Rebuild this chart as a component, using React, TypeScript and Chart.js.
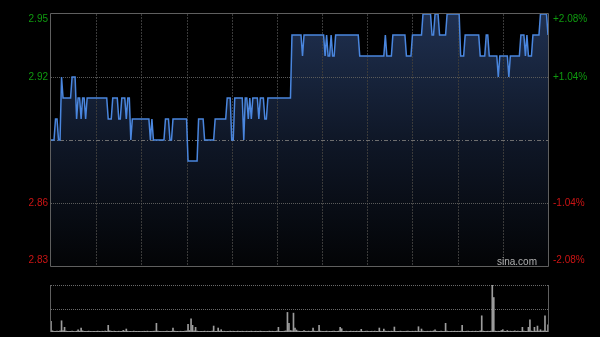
import React, { useEffect, useRef } from "react";
import { Chart, registerables } from "chart.js";

Chart.register(...registerables);

// ---- data ----
const prevClose = 2.89;
const priceMin = 2.83;
const priceMax = 2.95;
const leftTicks = [2.95, 2.92, 2.86, 2.83];
const rightTicks = ["+2.08%", "+1.04%", "-1.04%", "-2.08%"];
const timeGrid = [30, 60, 90, 120, 150, 180, 210, 240, 270, 300];
const totalMinutes = 330;

const prices = [
  2.89, 2.89, 2.89, 2.9, 2.9, 2.89, 2.89, 2.92, 2.91, 2.91,
  2.91, 2.91, 2.91, 2.91, 2.92, 2.92, 2.92, 2.9, 2.91, 2.91,
  2.9, 2.91, 2.91, 2.9, 2.91, 2.91, 2.91, 2.91, 2.91, 2.91,
  2.91, 2.91, 2.91, 2.91, 2.91, 2.91, 2.91, 2.91, 2.9, 2.9,
  2.9, 2.91, 2.91, 2.91, 2.91, 2.9, 2.9, 2.91, 2.91, 2.91,
  2.9, 2.91, 2.91, 2.89, 2.9, 2.9, 2.9, 2.9, 2.9, 2.9,
  2.9, 2.9, 2.9, 2.9, 2.9, 2.9, 2.89, 2.9, 2.89, 2.89,
  2.89, 2.89, 2.89, 2.89, 2.89, 2.89, 2.9, 2.9, 2.9, 2.89,
  2.89, 2.9, 2.9, 2.9, 2.9, 2.9, 2.9, 2.9, 2.9, 2.9,
  2.9, 2.88, 2.88, 2.88, 2.88, 2.88, 2.88, 2.88, 2.9, 2.9,
  2.9, 2.9, 2.89, 2.89, 2.89, 2.89, 2.89, 2.89, 2.89, 2.9,
  2.9, 2.9, 2.9, 2.9, 2.9, 2.9, 2.9, 2.91, 2.91, 2.91,
  2.89, 2.89, 2.91, 2.91, 2.91, 2.91, 2.91, 2.91, 2.89, 2.91,
  2.91, 2.9, 2.91, 2.9, 2.91, 2.91, 2.91, 2.91, 2.9, 2.91,
  2.91, 2.91, 2.9, 2.9, 2.91, 2.91, 2.91, 2.91, 2.91, 2.91,
  2.91, 2.91, 2.91, 2.91, 2.91, 2.91, 2.91, 2.91, 2.91, 2.91,
  2.94, 2.94, 2.94, 2.94, 2.94, 2.94, 2.94, 2.93, 2.94, 2.94,
  2.94, 2.94, 2.94, 2.94, 2.94, 2.94, 2.94, 2.94, 2.94, 2.94,
  2.94, 2.94, 2.93, 2.94, 2.93, 2.93, 2.94, 2.93, 2.93, 2.94,
  2.94, 2.94, 2.94, 2.94, 2.94, 2.94, 2.94, 2.94, 2.94, 2.94,
  2.94, 2.94, 2.94, 2.94, 2.94, 2.93, 2.93, 2.93, 2.93, 2.93,
  2.93, 2.93, 2.93, 2.93, 2.93, 2.93, 2.93, 2.93, 2.93, 2.93,
  2.93, 2.93, 2.94, 2.93, 2.93, 2.93, 2.93, 2.94, 2.94, 2.94,
  2.94, 2.94, 2.94, 2.94, 2.94, 2.94, 2.93, 2.93, 2.93, 2.93,
  2.94, 2.94, 2.94, 2.94, 2.94, 2.94, 2.94, 2.95, 2.95, 2.95,
  2.95, 2.95, 2.95, 2.94, 2.94, 2.95, 2.95, 2.95, 2.94, 2.94,
  2.94, 2.94, 2.94, 2.95, 2.95, 2.95, 2.95, 2.95, 2.95, 2.95,
  2.95, 2.95, 2.93, 2.93, 2.93, 2.94, 2.94, 2.94, 2.94, 2.94,
  2.94, 2.94, 2.94, 2.94, 2.94, 2.93, 2.93, 2.93, 2.93, 2.94,
  2.94, 2.93, 2.93, 2.93, 2.93, 2.93, 2.93, 2.92, 2.93, 2.93,
  2.93, 2.93, 2.93, 2.93, 2.92, 2.93, 2.93, 2.93, 2.93, 2.93,
  2.93, 2.93, 2.94, 2.94, 2.94, 2.93, 2.94, 2.93, 2.93, 2.93,
  2.94, 2.94, 2.94, 2.94, 2.94, 2.95, 2.95, 2.95, 2.95, 2.95,
  2.94,
];

const volumes = [
  1070, 120, 80, 60, 90, 70, 110, 1130, 150, 470,
  90, 60, 80, 70, 100, 60, 50, 80, 230, 90,
  400, 120, 80, 60, 70, 90, 60, 50, 80, 70,
  60, 90, 70, 50, 80, 60, 100, 70, 670, 120,
  80, 60, 90, 70, 50, 80, 60, 70, 170, 90,
  300, 80, 60, 70, 50, 90, 60, 80, 70, 60,
  50, 70, 80, 60, 90, 50, 70, 60, 80, 100,
  870, 90, 60, 70, 50, 80, 60, 90, 70, 60,
  80, 400, 90, 60, 70, 50, 80, 60, 70, 90,
  110, 770, 150, 1330, 670, 120, 470, 90, 60, 80,
  70, 60, 90, 50, 80, 70, 60, 90, 600, 80,
  70, 400, 90, 230, 60, 80, 50, 70, 60, 90,
  60, 80, 70, 50, 90, 60, 70, 80, 60, 50,
  80, 60, 70, 90, 50, 60, 80, 70, 60, 90,
  70, 60, 80, 50, 70, 90, 60, 80, 70, 60,
  90, 470, 80, 60, 70, 90, 120, 1970, 870, 150,
  110, 1900, 400, 200, 90, 80, 60, 70, 150, 80,
  60, 90, 70, 80, 400, 90, 60, 80, 670, 90,
  70, 60, 80, 90, 50, 70, 60, 80, 90, 60,
  80, 90, 470, 330, 70, 60, 80, 50, 70, 90,
  60, 80, 70, 90, 60, 80, 270, 70, 60, 80,
  90, 60, 70, 80, 60, 90, 70, 60, 400, 80,
  70, 300, 90, 60, 80, 70, 90, 60, 500, 80,
  60, 70, 90, 80, 60, 70, 80, 90, 60, 70,
  80, 60, 90, 70, 530, 80, 300, 90, 60, 70,
  80, 60, 90, 70, 120, 230, 80, 60, 70, 90,
  60, 80, 870, 90, 60, 70, 80, 60, 90, 70,
  80, 60, 90, 670, 70, 60, 80, 90, 60, 70,
  80, 60, 90, 70, 60, 120, 1630, 90, 70, 60,
  80, 60, 90, 4730, 3470, 90, 60, 80, 70, 150,
  230, 80, 60, 150, 70, 90, 60, 80, 120, 70,
  90, 60, 80, 470, 90, 70, 80, 470, 1230, 100,
  80, 470, 90, 600, 100, 230, 90, 110, 1630, 90,
  730,
];
const volumeMax = 4730;

// ---- styles ----
const FONT = "10px 'Liberation Sans', Arial, sans-serif";
const GREEN = "#0f9a0f";
const RED = "#cc1414";
const BORDER = "#5f5f5f";

function hline(ctx: CanvasRenderingContext2D, x1: number, x2: number, y: number) {
  ctx.beginPath();
  ctx.moveTo(x1, y);
  ctx.lineTo(x2, y);
  ctx.stroke();
}
function vline(ctx: CanvasRenderingContext2D, x: number, y1: number, y2: number) {
  ctx.beginPath();
  ctx.moveTo(x, y1);
  ctx.lineTo(x, y2);
  ctx.stroke();
}

const mainDecor = {
  id: "mainDecor",
  beforeDatasetDraw(chart: any) {
    const { ctx, chartArea: a, scales } = chart;
    const x = scales.x;
    const y = scales.y;
    ctx.save();
    ctx.lineWidth = 1;
    ctx.strokeStyle = "#3a3a3a";
    ctx.setLineDash([2, 1]);
    for (const m of timeGrid) {
      const px = Math.round(x.getPixelForValue(m)) + 0.5;
      vline(ctx, px, a.top, a.bottom);
    }
    ctx.strokeStyle = "#5a5a5a";
    ctx.setLineDash([1, 1]);
    for (const v of leftTicks) {
      if (v === priceMin || v === priceMax) continue;
      const py = Math.round(y.getPixelForValue(v)) + 0.5;
      hline(ctx, a.left, a.right, py);
    }
    ctx.strokeStyle = "#6e6e6e";
    ctx.setLineDash([4, 2, 1, 2]);
    const pc = Math.round(y.getPixelForValue(prevClose)) + 0.5;
    hline(ctx, a.left, a.right, pc);
    ctx.restore();
  },
  afterDatasetsDraw(chart: any) {
    const { ctx, chartArea: a, scales } = chart;
    const y = scales.y;
    ctx.save();
    ctx.strokeStyle = BORDER;
    ctx.lineWidth = 1;
    ctx.setLineDash([]);
    const l = Math.round(a.left) - 0.5;
    const r = Math.round(a.right) + 0.5;
    const t = Math.round(a.top) - 0.5;
    const b = Math.round(a.bottom) + 0.5;
    hline(ctx, l, r, t);
    hline(ctx, l, r, b);
    vline(ctx, l, t, b);
    vline(ctx, r, t, b);

    ctx.font = FONT;
    ctx.textBaseline = "middle";
    leftTicks.forEach((v, i) => {
      let py = y.getPixelForValue(v);
      if (v === priceMax) py += 5;
      if (v === priceMin) py -= 6;
      ctx.fillStyle = v > prevClose ? GREEN : RED;
      ctx.textAlign = "right";
      ctx.fillText(v.toFixed(2), a.left - 3, py);
      ctx.textAlign = "left";
      ctx.fillText(rightTicks[i], a.right + 5, py);
    });

    ctx.fillStyle = "#b0b0b0";
    ctx.textAlign = "right";
    ctx.textBaseline = "alphabetic";
    ctx.fillText("sina.com", a.right - 11, a.bottom - 1);
    ctx.restore();
  },
};

const volDecor = {
  id: "volDecor",
  beforeDatasetsDraw(chart: any) {
    const { ctx, chartArea: a, scales } = chart;
    const y = scales.y;
    ctx.save();
    ctx.lineWidth = 1;
    ctx.strokeStyle = "#6a6a6a";
    ctx.setLineDash([1, 1]);
    const top = Math.round(y.getPixelForValue(volumeMax)) + 0.5;
    const mid = Math.round(y.getPixelForValue(volumeMax / 2)) + 0.5;
    hline(ctx, a.left, a.right, top);
    hline(ctx, a.left, a.right, mid);
    ctx.setLineDash([]);
    ctx.strokeStyle = "#444";
    const base = Math.round(y.getPixelForValue(0)) - 0.5;
    hline(ctx, a.left, a.right, base);
    ctx.strokeStyle = BORDER;
    const l = Math.round(a.left) - 0.5;
    const r = Math.round(a.right) + 0.5;
    vline(ctx, l, a.top, a.bottom);
    vline(ctx, r, a.top, a.bottom);
    ctx.restore();
  },
};

export default function App() {
  const mainRef = useRef<HTMLCanvasElement>(null);
  const volRef = useRef<HTMLCanvasElement>(null);

  useEffect(() => {
    const priceChart = new Chart(mainRef.current!, {
      type: "line",
      data: {
        datasets: [
          {
            data: prices.map((p, i) => ({ x: i, y: p })),
            borderColor: "#4a86de",
            borderWidth: 1.5,
            pointRadius: 0,
            tension: 0,
            fill: "start",
            backgroundColor: (c: any) => {
              const area = c.chart.chartArea;
              if (!area) return "rgba(0,0,0,0)";
              const g = c.chart.ctx.createLinearGradient(0, area.top, 0, area.bottom);
              g.addColorStop(0, "rgb(31,48,80)");
              g.addColorStop(0.5, "rgb(15,23,39)");
              g.addColorStop(1, "rgb(3,4,6)");
              return g;
            },
          },
        ],
      },
      options: {
        animation: false,
        responsive: false,
        devicePixelRatio: 1,
        layout: { padding: { left: 51, right: 52, top: 14, bottom: 10 } },
        scales: {
          x: { type: "linear", min: 0, max: totalMinutes, display: false },
          y: { type: "linear", min: priceMin, max: priceMax, display: false },
        },
        plugins: {
          legend: { display: false },
          tooltip: { enabled: false },
          filler: { drawTime: "beforeDatasetsDraw" },
        },
      } as any,
      plugins: [mainDecor],
    });

    const volChart = new Chart(volRef.current!, {
      type: "bar",
      data: {
        datasets: [
          {
            data: volumes.map((v, i) => ({ x: i, y: v })),
            backgroundColor: "#9c9c9c",
            barThickness: 1,
            borderWidth: 0,
          },
        ],
      },
      options: {
        animation: false,
        responsive: false,
        devicePixelRatio: 1,
        layout: { padding: { left: 51, right: 52, top: 9, bottom: 5 } },
        scales: {
          x: { type: "linear", min: 0, max: totalMinutes, display: false, offset: false },
          y: { type: "linear", min: 0, max: volumeMax, display: false },
        },
        plugins: { legend: { display: false }, tooltip: { enabled: false } },
      } as any,
      plugins: [volDecor],
    });

    return () => {
      priceChart.destroy();
      volChart.destroy();
    };
  }, []);

  return (
    <div
      style={{
        position: "absolute",
        left: 0,
        top: 0,
        width: 600,
        height: 337,
        background: "#000",
        overflow: "hidden",
      }}
    >
      <canvas
        ref={mainRef}
        width={600}
        height={276}
        style={{ position: "absolute", left: 0, top: 0, width: 600, height: 276 }}
      />
      <canvas
        ref={volRef}
        width={600}
        height={61}
        style={{ position: "absolute", left: 0, top: 276, width: 600, height: 61 }}
      />
    </div>
  );
}
